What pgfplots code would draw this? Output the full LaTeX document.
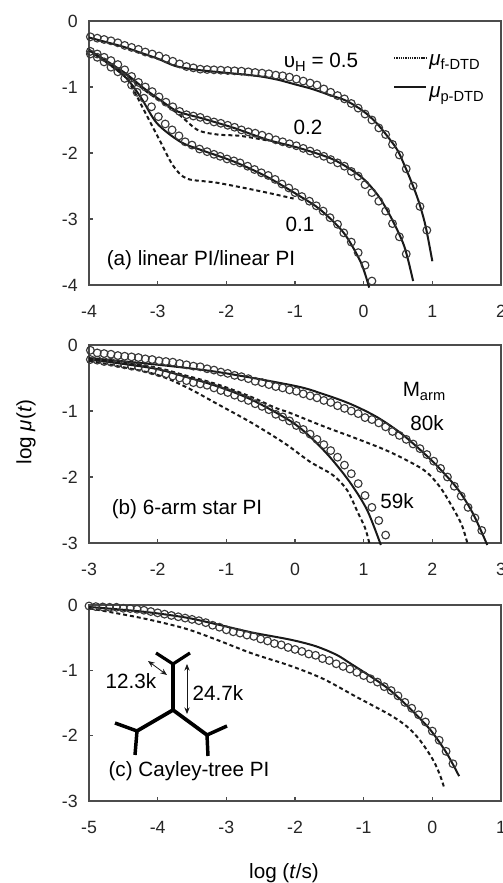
\documentclass[border=0pt]{standalone}
\usepackage{fontspec}
\setmainfont{Liberation Sans}
\usepackage{pgfplots}
\pgfplotsset{compat=1.18}
\usetikzlibrary{arrows.meta}
\definecolor{ink}{gray}{0.1}
\definecolor{frame}{gray}{0.3}
\definecolor{circ}{gray}{0.22}
\newcommand{\tl}{\fontsize{13.3}{15}\selectfont}
\newcommand{\lb}{\fontsize{15.5}{18}\selectfont}
\newcommand{\sbs}{\fontsize{11}{13}\selectfont}
\pgfplotsset{
  panel/.style={
    scale only axis, width=309pt, clip=false,
    axis line style={frame,line width=1pt},
    tick style={frame,line width=0.8pt},
    tick align=inside, major tick length=3pt,
    xtick pos=bottom, ytick pos=left,
    /pgf/number format/assume math mode=true,
    ticklabel style={font=\tl,text=black!85},
    xticklabel style={yshift=-11.5pt},
    yticklabel style={xshift=-5pt},
  },
  sol/.style={ink,line width=1.5pt,smooth,no markers},
  das/.style={ink,line width=1.5pt,smooth,no markers,dash pattern=on 3pt off 2.2pt},
  cir/.style={circ,line width=0.85pt,only marks,mark=o,mark size=2.9pt,mark options={circ}},
}
\begin{document}
\begin{tikzpicture}
\path[use as bounding box] (0,0) rectangle (377.25pt,662.25pt);
% ---------- panel a
\begin{axis}[panel,at={(66.75pt,448.5pt)},anchor=south west,height=198pt,
  xmin=-4,xmax=2,ymin=-4,ymax=0,xtick={-4,-3,-2,-1,0,1,2},ytick={-4,-3,-2,-1,0}]
\addplot[cir] coordinates {(-3.98,-.24)(-3.88,-.26)(-3.78,-.28)(-3.68,-.30)(-3.58,-.33)(-3.48,-.37)(-3.38,-.40)(-3.28,-.43)(-3.18,-.47)(-3.08,-.50)(-2.98,-.53)(-2.88,-.57)(-2.78,-.61)(-2.68,-.65)(-2.58,-.69)(-2.48,-.71)(-2.38,-.73)(-2.28,-.735)(-2.18,-.74)(-2.08,-.745)(-1.98,-.75)(-1.88,-.755)(-1.78,-.76)(-1.68,-.77)(-1.58,-.78)(-1.48,-.79)(-1.38,-.80)(-1.28,-.82)(-1.18,-.83)(-1.08,-.85)(-.98,-.88)(-.88,-.91)(-.78,-.94)(-.68,-.97)(-.58,-1.03)(-.48,-1.08)(-.38,-1.13)(-.28,-1.18)(-.18,-1.25)(-.08,-1.32)(.02,-1.41)(.12,-1.5)(.22,-1.62)(.32,-1.72)(.42,-1.87)(.52,-2.03)(.62,-2.24)(.72,-2.5)(.82,-2.81)(.92,-3.17)};
\addplot[cir] coordinates {(-3.98,-.46)(-3.88,-.50)(-3.78,-.55)(-3.68,-.60)(-3.58,-.66)(-3.48,-.74)(-3.38,-.84)(-3.28,-.93)(-3.18,-1.0)(-3.08,-1.07)(-2.98,-1.15)(-2.88,-1.23)(-2.78,-1.30)(-2.68,-1.37)(-2.58,-1.42)(-2.48,-1.44)(-2.38,-1.46)(-2.28,-1.5)(-2.18,-1.53)(-2.08,-1.55)(-1.98,-1.58)(-1.88,-1.61)(-1.78,-1.65)(-1.68,-1.68)(-1.58,-1.70)(-1.48,-1.73)(-1.38,-1.76)(-1.28,-1.80)(-1.18,-1.83)(-1.08,-1.86)(-.98,-1.89)(-.88,-1.93)(-.78,-1.97)(-.68,-2.01)(-.58,-2.05)(-.48,-2.1)(-.38,-2.15)(-.28,-2.2)(-.18,-2.28)(-.08,-2.35)(.02,-2.48)(.12,-2.6)(.22,-2.73)(.32,-2.88)(.42,-3.07)(.52,-3.27)(.62,-3.53)};
\addplot[cir] coordinates {(-3.98,-.5)(-3.88,-.55)(-3.78,-.62)(-3.68,-.7)(-3.58,-.77)(-3.48,-.87)(-3.38,-.97)(-3.3,-1.08)(-3.2,-1.17)(-3.09,-1.3)(-2.99,-1.45)(-2.89,-1.56)(-2.79,-1.65)(-2.69,-1.74)(-2.6,-1.83)(-2.5,-1.88)(-2.39,-1.94)(-2.28,-1.98)(-2.18,-2.02)(-2.09,-2.05)(-1.99,-2.09)(-1.89,-2.12)(-1.8,-2.15)(-1.69,-2.2)(-1.59,-2.25)(-1.49,-2.3)(-1.39,-2.34)(-1.29,-2.4)(-1.19,-2.47)(-1.09,-2.53)(-1,-2.6)(-.9,-2.66)(-.79,-2.73)(-.69,-2.8)(-.59,-2.88)(-.49,-2.98)(-.38,-3.08)(-.29,-3.21)(-.18,-3.35)(-.08,-3.51)(.02,-3.7)(.12,-3.94)};
\addplot[das] coordinates {(-4,-.44)(-3.5,-.82)(-3.35,-1.05)(-3.2,-1.35)(-2.96,-1.83)(-2.77,-2.2)(-2.57,-2.39)(-2.14,-2.45)(-1.5,-2.58)(-1.02,-2.69)};
\addplot[das] coordinates {(-4,-.44)(-3.5,-.78)(-3.2,-1.04)(-2.71,-1.40)(-2.42,-1.65)(-2.13,-1.72)(-1.8,-1.74)(-1.4,-1.81)};
\addplot[sol] coordinates {(-4,-.25)(-3.75,-.32)(-3.5,-.39)(-3.25,-.48)(-3,-.57)(-2.75,-.68)(-2.5,-.73)(-2.25,-.76)(-2,-.785)(-1.75,-.81)(-1.5,-.84)(-1.25,-.89)(-1,-.96)(-.75,-1.03)(-.5,-1.12)(-.25,-1.21)(0,-1.37)(.2,-1.56)(.4,-1.82)(.5,-1.97)(.6,-2.2)(.7,-2.45)(.8,-2.73)(.9,-3.1)(1,-3.64)};
\addplot[sol] coordinates {(-4,-.44)(-3.5,-.77)(-3.2,-1.02)(-2.96,-1.2)(-2.71,-1.37)(-2.37,-1.47)(-1.89,-1.62)(-1.4,-1.8)(-.92,-1.93)(-.44,-2.1)(-.05,-2.35)(.2,-2.63)(.39,-2.96)(.59,-3.41)(.72,-3.94)};
\addplot[sol] coordinates {(-4,-.44)(-3.5,-.82)(-3.25,-1.15)(-3.01,-1.55)(-2.67,-1.83)(-2.38,-1.95)(-1.89,-2.13)(-1.41,-2.36)(-.92,-2.66)(-.63,-2.86)(-.29,-3.21)(-.04,-3.66)(.08,-4.04)};
\end{axis}
% ---------- panel b
\begin{axis}[panel,at={(66.75pt,255pt)},anchor=south west,height=148.5pt,
  xmin=-3,xmax=3,ymin=-3,ymax=0,xtick={-3,-2,-1,0,1,2,3},ytick={-3,-2,-1,0}]
\addplot[cir] coordinates {(-2.98,-.08)(-2.88,-.12)(-2.78,-.13)(-2.68,-.14)(-2.58,-.16)(-2.48,-.17)(-2.38,-.18)(-2.28,-.19)(-2.18,-.21)(-2.08,-.22)(-1.98,-.24)(-1.88,-.25)(-1.78,-.26)(-1.68,-.28)(-1.58,-.30)(-1.48,-.32)(-1.38,-.33)(-1.28,-.36)(-1.18,-.38)(-1.08,-.41)(-.98,-.43)(-.88,-.46)(-.78,-.48)(-.68,-.51)(-.58,-.55)(-.48,-.57)(-.38,-.60)(-.28,-.63)(-.18,-.65)(-.08,-.68)(.02,-.70)(.12,-.74)(.22,-.77)(.32,-.80)(.42,-.84)(.52,-.87)(.62,-.92)(.72,-.96)(.82,-1.0)(.92,-1.04)(1.02,-1.1)(1.12,-1.13)(1.22,-1.18)(1.32,-1.24)(1.42,-1.31)(1.52,-1.37)(1.62,-1.43)(1.72,-1.5)(1.82,-1.57)(1.92,-1.66)(2.02,-1.76)(2.12,-1.87)(2.22,-2.0)(2.32,-2.14)(2.42,-2.29)(2.52,-2.46)(2.62,-2.62)(2.72,-2.81)};
\addplot[cir] coordinates {(-2.98,-.22)(-2.88,-.23)(-2.78,-.25)(-2.68,-.26)(-2.58,-.28)(-2.48,-.30)(-2.38,-.32)(-2.28,-.33)(-2.18,-.36)(-2.08,-.39)(-1.98,-.42)(-1.88,-.44)(-1.78,-.47)(-1.68,-.50)(-1.58,-.54)(-1.48,-.57)(-1.38,-.59)(-1.28,-.61)(-1.18,-.65)(-1.08,-.69)(-.98,-.72)(-.88,-.76)(-.78,-.80)(-.68,-.84)(-.58,-.89)(-.48,-.93)(-.38,-.98)(-.28,-1.05)(-.18,-1.09)(-.08,-1.15)(.02,-1.22)(.12,-1.28)(.22,-1.35)(.32,-1.43)(.42,-1.51)(.52,-1.60)(.62,-1.70)(.72,-1.82)(.82,-1.95)(.92,-2.1)(1.02,-2.28)(1.12,-2.46)(1.22,-2.66)(1.32,-2.88)};
\addplot[das] coordinates {(-3,-.2)(-2.08,-.33)(-1.6,-.46)(-1.12,-.6)(-.63,-.79)(-.29,-.95)(-.07,-1.03)(.41,-1.23)(.9,-1.42)(1.38,-1.62)(1.87,-1.89)(2.11,-2.15)(2.3,-2.47)(2.43,-2.73)(2.51,-3.0)};
\addplot[das] coordinates {(-3,-.24)(-2.08,-.43)(-1.6,-.63)(-1.12,-.9)(-.63,-1.18)(-.15,-1.49)(.22,-1.77)(.55,-1.97)(.76,-2.2)(.92,-2.55)(1.02,-2.77)(1.09,-3.03)};
\addplot[sol] coordinates {(-3,-.2)(-2.08,-.29)(-1.12,-.41)(0,-.62)(.4,-.74)(.8,-.89)(1.19,-1.09)(1.57,-1.36)(2.01,-1.77)(2.36,-2.17)(2.59,-2.55)(2.8,-3.03)};
\addplot[sol] coordinates {(-3,-.22)(-2.08,-.35)(-1.6,-.48)(-1.12,-.63)(-.63,-.83)(-.07,-1.15)(.22,-1.39)(.51,-1.7)(.8,-2.08)(1.05,-2.5)(1.25,-3.03)};
\end{axis}
% ---------- panel c
\begin{axis}[panel,at={(66.75pt,61.5pt)},anchor=south west,height=147pt,
  xmin=-5,xmax=1,ymin=-3,ymax=0,xtick={-5,-4,-3,-2,-1,0,1},ytick={-3,-2,-1,0}]
\addplot[cir] coordinates {(-5,-.015)(-4.9,-.025)(-4.8,-.03)(-4.7,-.035)(-4.6,-.035)(-4.5,-.05)(-4.4,-.055)(-4.3,-.065)(-4.2,-.08)(-4.1,-.10)(-4,-.12)(-3.9,-.14)(-3.8,-.16)(-3.7,-.18)(-3.6,-.20)(-3.5,-.22)(-3.4,-.24)(-3.3,-.27)(-3.2,-.31)(-3.1,-.34)(-3,-.38)(-2.9,-.41)(-2.8,-.43)(-2.7,-.46)(-2.6,-.48)(-2.5,-.52)(-2.4,-.55)(-2.3,-.59)(-2.2,-.61)(-2.1,-.65)(-2,-.68)(-1.9,-.71)(-1.8,-.75)(-1.7,-.77)(-1.6,-.82)(-1.5,-.85)(-1.4,-.90)(-1.3,-.94)(-1.2,-.98)(-1.1,-1.03)(-1,-1.08)(-.9,-1.13)(-.8,-1.18)(-.7,-1.25)(-.6,-1.31)(-.5,-1.39)(-.4,-1.49)(-.3,-1.58)(-.2,-1.68)(-.1,-1.79)(0,-1.93)(.1,-2.07)(.2,-2.24)(.3,-2.43)};
\addplot[das] coordinates {(-5,-.05)(-4.23,-.2)(-3.6,-.36)(-3.12,-.54)(-2.63,-.74)(-2.07,-.93)(-1.59,-1.13)(-1.1,-1.41)(-.62,-1.68)(-.37,-1.86)(-.18,-2.07)(.01,-2.37)(.11,-2.6)(.18,-2.82)};
\addplot[sol] coordinates {(-5,-.03)(-4.23,-.10)(-3.6,-.19)(-3.12,-.30)(-2.63,-.42)(-2.07,-.53)(-1.7,-.63)(-1.4,-.76)(-1.2,-.89)(-.86,-1.12)(-.62,-1.30)(-.33,-1.58)(-.03,-1.91)(.21,-2.27)(.39,-2.62)};
\end{axis}
% ---------- annotations, in image pixels
\begin{scope}[shift={(0pt,662.25pt)},x=0.75pt,y=-0.75pt]
\node[font=\lb] at (201,260) {(a) linear PI/linear PI};
\node[font=\lb] at (321,62) {υ\raisebox{-3pt}{\sbs H} = 0.5};
\node[font=\lb] at (308,127) {0.2};
\node[font=\lb] at (300,224) {0.1};
\draw[ink,line width=1pt,dash pattern=on 1pt off .7pt] (394,58)--(426,58);
\draw[ink,line width=1.2pt] (394,87)--(426,87);
\node[font=\lb,anchor=west,inner sep=0] at (429,62) {\textit{μ}\raisebox{-3pt}{\sbs f-DTD}};
\node[font=\lb,anchor=west,inner sep=0] at (429,96) {\textit{μ}\raisebox{-3pt}{\sbs p-DTD}};
\node[font=\lb] at (187,509) {(b) 6-arm star PI};
\node[font=\lb] at (424,391) {M\raisebox{-3pt}{\sbs arm}};
\node[font=\lb] at (427,423) {80k};
\node[font=\lb] at (397,501) {59k};
\node[font=\lb,rotate=90] at (26,432) {log \textit{μ}(\textit{t})};
\node[font=\lb] at (189,771) {(c) Cayley-tree PI};
\node[font=\lb] at (131,681) {12.3k};
\node[font=\lb] at (218,693) {24.7k};
\node[font=\lb] at (284,873) {log (\textit{t}/s)};
\draw[black,line width=2.4pt,line join=round] (156,653)--(173,664)--(190,653);
\draw[black,line width=2.8pt] (173,664)--(173,710)--(137,731);
\draw[black,line width=2.8pt] (173,710)--(207,735);
\draw[black,line width=2.6pt] (115,723)--(137,731)--(135,755);
\draw[black,line width=2.6pt] (227,726)--(207,735)--(208,756);
\draw[ink,line width=.6pt,{Stealth[length=5pt,width=4pt]}-{Stealth[length=5pt,width=4pt]}] (148,661)--(167,675);
\draw[ink,line width=.6pt,{Stealth[length=5pt,width=4pt]}-{Stealth[length=5pt,width=4pt]}] (187,664)--(187,714);
\end{scope}
\end{tikzpicture}
\end{document}
